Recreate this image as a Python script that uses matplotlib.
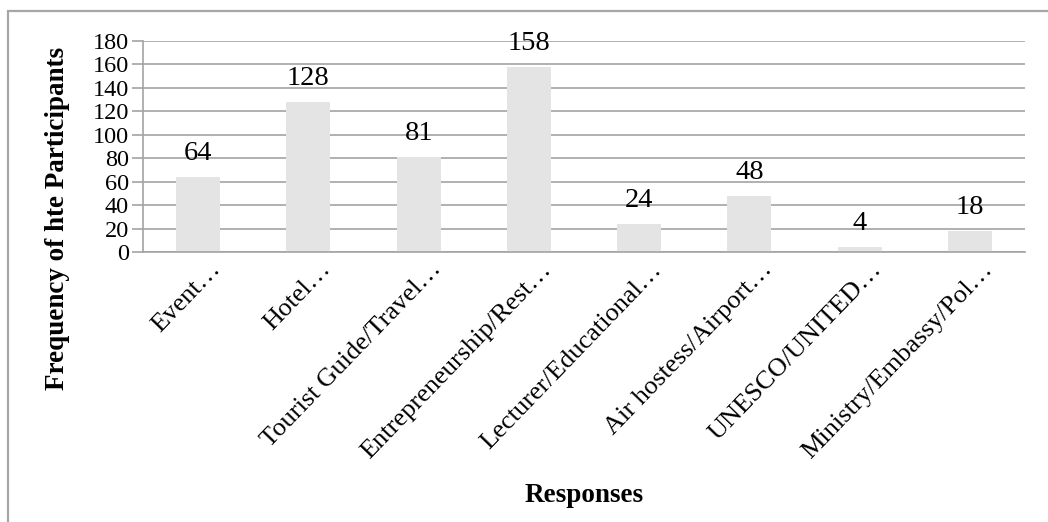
import matplotlib.pyplot as plt
from matplotlib.patches import Rectangle
from matplotlib.transforms import ScaledTranslation

categories = [
    "Event…",
    "Hotel…",
    "Tourist Guide/Travel…",
    "Entrepreneurship/Rest…",
    "Lecturer/Educational…",
    "Air hostess/Airport…",
    "UNESCO/UNITED…",
    "Ministry/Embassy/Pol…",
]
frequencies = [64, 128, 81, 158, 24, 48, 4, 18]
y_ticks = [0, 20, 40, 60, 80, 100, 120, 140, 160, 180]


def main():
    plt.rcParams["font.family"] = ["Liberation Serif", "DejaVu Serif"]

    W, H = 1048, 522
    fig = plt.figure(figsize=(W / 100, H / 100), dpi=100)

    # plot area in pixel coordinates
    left, right, top, bottom = 143, 1025, 41, 252
    ax = fig.add_axes([left / W, 1 - bottom / H, (right - left) / W, (bottom - top) / H])

    grid_color = "#a3a3a3"
    x = range(len(categories))
    ax.bar(x, frequencies, width=0.4, color="#e4e4e4", zorder=2)

    for xi, val in zip(x, frequencies):
        ax.annotate(str(val), (xi, val), xytext=(0, 8), textcoords="offset points",
                    ha="center", va="bottom", fontsize=20.5, zorder=3)

    ax.set_xlim(-0.5, len(categories) - 0.5)
    ax.set_ylim(0, 180)
    ax.set_yticks(y_ticks)
    ax.yaxis.grid(True, color=grid_color, linewidth=1.2, zorder=0)
    ax.set_axisbelow(True)

    for side in ["top", "right"]:
        ax.spines[side].set_visible(False)
    ax.spines["left"].set_color(grid_color)
    ax.spines["bottom"].set_color(grid_color)
    ax.spines["left"].set_linewidth(1.2)
    ax.spines["bottom"].set_linewidth(1.2)

    ax.tick_params(axis="y", length=8, width=1.2, color=grid_color, labelsize=17.5, pad=2)
    ax.tick_params(axis="x", length=0, pad=0)
    ax.set_xticks(list(x))
    ax.set_xticklabels(categories, rotation=46, ha="right", va="center",
                       rotation_mode="anchor", fontsize=19)
    # move the slanted labels so their ends sit just right of each bar
    shift = ScaledTranslation(19 / 100, -14 / 100, fig.dpi_scale_trans)
    for lbl in ax.get_xticklabels():
        lbl.set_transform(lbl.get_transform() + shift)

    fig.text(58 / W, 1 - 218 / H, "Frequency of hte Participants", rotation=90,
             ha="center", va="center", fontsize=19.5, fontweight="bold")
    fig.text(584 / W, 1 - 495 / H, "Responses", ha="center", va="center",
             fontsize=19.5, fontweight="bold")

    # chart frame
    fig.patches.append(Rectangle((8 / W, -0.1), 1.2, 1 - 11 / H + 0.1,
                                 transform=fig.transFigure, fill=False,
                                 edgecolor="#a6a6a6", linewidth=1.6))

    fig.savefig("out.png", dpi=100)


if __name__ == "__main__":
    main()
